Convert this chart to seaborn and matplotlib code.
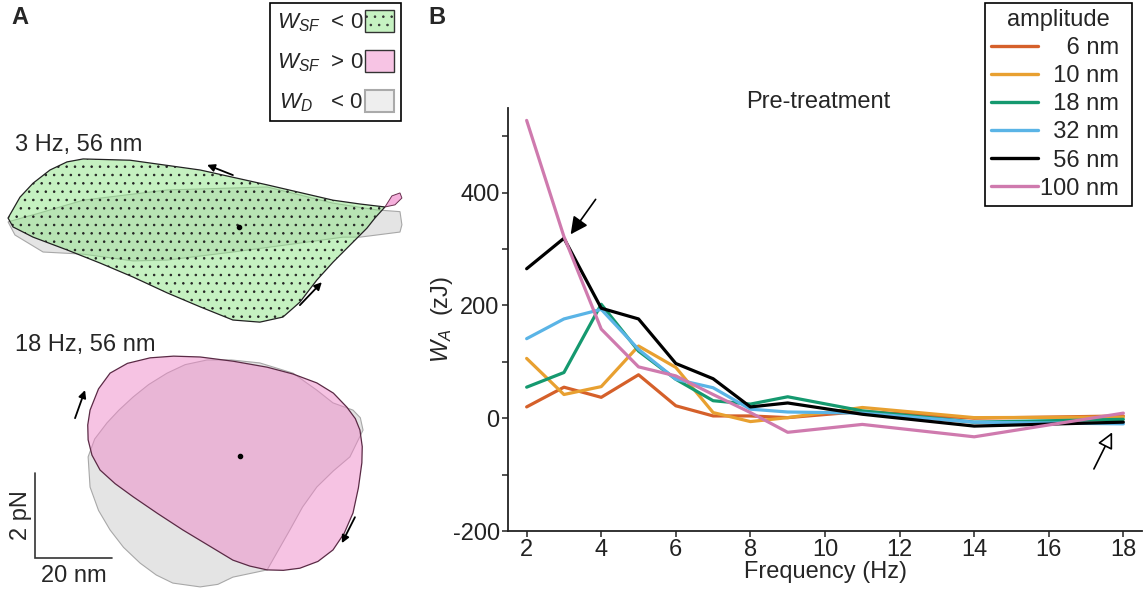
import numpy as np
import pandas as pd
import matplotlib
matplotlib.use("Agg")
import matplotlib.pyplot as plt
import seaborn as sns
from matplotlib.patches import Polygon, Patch

# ---------------- data: panel B ----------------
frequency = [2, 3, 4, 5, 6, 7, 8, 9, 11, 14, 18]
w_6nm = [20, 55, 37, 77, 22, 4, 4, 1, 12, 0, 4]
w_10nm = [106, 42, 56, 128, 90, 10, -6, 1, 19, 1, 2]
w_18nm = [55, 81, 202, 119, 69, 31, 25, 38, 13, -7, -2]
w_32nm = [141, 176, 193, 122, 69, 54, 16, 11, 9, -7, -10]
w_56nm = [265, 319, 195, 176, 97, 70, 20, 27, 7, -14, -7]
w_100nm = [528, 322, 158, 91, 75, 42, 10, -25, -11, -33, 9]
amplitudes = ["6 nm", "10 nm", "18 nm", "32 nm", "56 nm", "100 nm"]
amp_colors = ["#d5602a", "#e8a030", "#15996f", "#5ab4e6", "#000000", "#cf7aae"]
y_ticks = [-200, -100, 0, 100, 200, 300, 400, 500]
y_ticklabels = ["-200", "", "0", "", "200", "", "400", ""]
x_ticks = [2, 4, 6, 8, 10, 12, 14, 16, 18]

# ---------------- data: panel A (displacement nm, force pN) ----------------
loop3_green_x = [-7.0, -3.9, -0.5, 3.9, 8.3, 12.5, 24.7, 42.9, 60.3, 77.4, 84.4, 90.9,
                 88.3, 86.2, 81.8, 77.4, 73.2, 68.8, 64.4, 58.4, 51.4, 42.9, 34.3, 25.5,
                 16.9, 8.3, -0.5, -5.7]
loop3_green_y = [8.0, 8.49, 8.82, 9.13, 9.32, 9.39, 9.36, 9.13, 8.78, 8.42, 8.33, 8.26,
                 8.0, 7.76, 7.36, 6.96, 6.54, 6.02, 5.67, 5.55, 5.60, 5.91, 6.24, 6.61,
                 6.94, 7.25, 7.55, 7.79]
loop3_gray_x = [-7.0, 1.3, 12.5, 34.3, 60.3, 77.4, 88.8, 94.8, 95.3, 94.8, 84.4, 80.0,
                68.8, 51.4, 34.3, 25.5, 12.5, 2.1, -5.2]
loop3_gray_y = [7.91, 8.12, 8.42, 8.66, 8.73, 8.35, 8.19, 8.15, 7.84, 7.67, 7.55, 7.55,
                7.41, 7.20, 7.01, 6.99, 7.15, 7.20, 7.60]
loop3_pink_x = [90.9, 92.7, 94.8, 95.3, 93.5]
loop3_pink_y = [8.26, 8.52, 8.59, 8.47, 8.31]

loop18_pink_x = [14.3, 16.5, 19.5, 24.0, 29.9, 36.0, 42.9, 51.5, 60.3, 67.0, 73.2, 77.5,
                 81.0, 83.2, 84.4, 85.0, 84.9, 84.0, 82.6, 80.3, 77.4, 73.5, 68.8, 64.5,
                 60.3, 55.8, 51.4, 45.0, 38.4, 31.8, 25.5, 20.8, 16.9, 14.8, 13.8, 13.7]
loop18_pink_y = [3.48, 3.98, 4.35, 4.58, 4.71, 4.75, 4.73, 4.63, 4.49, 4.33, 4.12, 3.88,
                 3.55, 3.28, 3.01, 2.62, 2.24, 1.65, 1.06, 0.58, 0.19, -0.08, -0.24, -0.29,
                 -0.28, -0.19, -0.05, 0.30, 0.66, 1.05, 1.44, 1.75, 2.07, 2.42, 2.78, 3.13]
loop18_gray_x = [13.8, 14.3, 16.5, 19.5, 23.0, 27.3, 31.5, 35.8, 42.9, 47.5, 51.4, 60.3,
                 66.2, 69.5, 73.2, 77.5, 81.8, 85.2, 84.5, 82.6, 77.4, 73.2, 67.0, 58.4,
                 51.0, 44.7, 39.0, 34.3, 29.5, 25.5, 21.8, 18.7, 15.5]
loop18_gray_y = [2.38, 1.67, 1.12, 0.66, 0.25, -0.12, -0.40, -0.59, -0.68, -0.62, -0.45,
                 -0.28, 0.66, 1.20, 1.67, 2.05, 2.38, 3.01, 3.30, 3.48, 3.65, 3.95, 4.35,
                 4.59, 4.66, 4.66, 4.55, 4.35, 4.08, 3.79, 3.48, 3.18, 2.80]
centers_x = [53.0, 53.2]
centers_y = [7.79, 2.40]

# ---------------- style ----------------
sns.set_theme(style="ticks")
plt.rcParams["font.family"] = ["Liberation Sans", "DejaVu Sans"]
plt.rcParams["mathtext.fontset"] = "custom"
plt.rcParams["mathtext.rm"] = "Liberation Sans"
plt.rcParams["mathtext.it"] = "Liberation Sans:italic"
plt.rcParams["hatch.linewidth"] = 0.6
FS = 17

fig = plt.figure(figsize=(11.46, 5.96), dpi=100)

# ---------------- panel A ----------------
axA = fig.add_axes([0, 0, 420 / 1146, 1])
axA.set_xlim(-9.09, 100.0)
axA.set_ylim(-0.894, 13.13)
axA.axis("off")

def poly(ax, xs, ys, **kw):
    p = Polygon(np.column_stack([xs, ys]), closed=True, **kw)
    ax.add_patch(p)
    return p

green = "#8de585"
pink = "#ef89c9"
grayc = "#e4e4e4"

poly(axA, loop3_gray_x, loop3_gray_y, facecolor=grayc, edgecolor="#a8a8a8", lw=0.8, zorder=1)
poly(axA, loop3_green_x, loop3_green_y, facecolor=green, alpha=0.5, edgecolor="none", zorder=2)
poly(axA, loop3_green_x, loop3_green_y, fill=False, edgecolor="#222222", lw=0, hatch="..", zorder=3)
poly(axA, loop3_green_x, loop3_green_y, fill=False, edgecolor="#222222", lw=0.9, zorder=4)
poly(axA, loop3_pink_x, loop3_pink_y, facecolor="#f5b0dc", edgecolor="#6a3050", lw=0.7, zorder=4)

poly(axA, loop18_gray_x, loop18_gray_y, facecolor=grayc, edgecolor="#a8a8a8", lw=0.8, zorder=1)
poly(axA, loop18_pink_x, loop18_pink_y, facecolor=pink, alpha=0.5, edgecolor="none", zorder=2)
poly(axA, loop18_pink_x, loop18_pink_y, fill=False, edgecolor="#5a2a45", lw=0.9, zorder=3)

axA.scatter(centers_x, centers_y, s=9, color="black", zorder=5)

arrow_kw = dict(arrowstyle="-|>", color="black", lw=1.3, mutation_scale=11, shrinkA=0, shrinkB=0)
axA.annotate("", xy=(44.7, 9.25), xytext=(51.4, 9.01), arrowprops=arrow_kw)
axA.annotate("", xy=(74.5, 6.49), xytext=(68.8, 5.95), arrowprops=arrow_kw)
axA.annotate("", xy=(13.0, 3.95), xytext=(10.4, 3.29), arrowprops=arrow_kw)
axA.annotate("", xy=(79.7, 0.35), xytext=(83.1, 0.96), arrowprops=arrow_kw)

# scale bar
axA.plot([0, 0, 20], [2, 0, 0], color="#333333", lw=1.2, solid_joinstyle="miter")
axA.text(-3.6, 1.0, "2 pN", rotation=90, ha="center", va="center", fontsize=FS)
axA.text(10.2, -0.42, "20 nm", ha="center", va="center", fontsize=FS)

fig.text(15 / 1146, 1 - 145 / 596, "3 Hz, 56 nm", ha="left", va="center", fontsize=FS)
fig.text(15 / 1146, 1 - 345 / 596, "18 Hz, 56 nm", ha="left", va="center", fontsize=FS)
fig.text(11 / 1146, 1 - 17 / 596, "A", ha="left", va="center", fontsize=17, fontweight="bold")
fig.text(428 / 1146, 1 - 17 / 596, "B", ha="left", va="center", fontsize=17, fontweight="bold")

legA_handles = [
    Patch(facecolor="#c6f2c2", edgecolor="#333333", hatch="..", lw=1.0),
    Patch(facecolor="#f7c4e4", edgecolor="#333333", lw=1.0),
    Patch(facecolor="#eeeeee", edgecolor="#aaaaaa", lw=1.5),
]
legA_labels = [r"$W_{SF}$  < 0", r"$W_{SF}$  > 0", r"$W_{D}$   < 0"]
legA = fig.legend(legA_handles, legA_labels, loc="upper right",
                  bbox_to_anchor=(401 / 1146, 1 - 3 / 596), markerfirst=False,
                  fontsize=16, handlelength=1.3, handleheight=1.15, handletextpad=0.1,
                  labelspacing=0.72, borderpad=0.3, borderaxespad=0, frameon=True,
                  fancybox=False, framealpha=1, edgecolor="black")
legA.get_frame().set_linewidth(1.2)

# ---------------- panel B ----------------
axB = fig.add_axes([508 / 1146, 65 / 596, 634 / 1146, 423 / 596])
series = [w_6nm, w_10nm, w_18nm, w_32nm, w_56nm, w_100nm]
df = pd.DataFrame({
    "Frequency": np.tile(frequency, len(amplitudes)),
    "W": np.concatenate(series),
    "amplitude": np.repeat(amplitudes, len(frequency)),
})
sns.lineplot(data=df, x="Frequency", y="W", hue="amplitude", hue_order=amplitudes,
             palette=dict(zip(amplitudes, amp_colors)), linewidth=2.3, ax=axB, legend=True)
handles, labels = axB.get_legend_handles_labels()
axB.get_legend().remove()

axB.set_xlim(1.5, 18.5)
axB.set_ylim(-200, 550)
axB.set_xticks(x_ticks)
axB.set_xticklabels([str(t) for t in x_ticks])
axB.set_yticks(y_ticks)
axB.set_yticklabels(y_ticklabels)
axB.tick_params(axis="both", labelsize=FS, length=4.5, width=1.1, pad=1.5, colors="#222222")
for s in ["left", "bottom"]:
    axB.spines[s].set_linewidth(1.3)
    axB.spines[s].set_color("#222222")
sns.despine(ax=axB)
axB.set_xlabel("Frequency (Hz)", fontsize=FS, labelpad=0)
axB.set_ylabel(r"$W_A$  (zJ)", fontsize=FS)
axB.yaxis.set_label_coords(-0.083, 0.5)
axB.text(0.49, 1.015, "Pre-treatment", transform=axB.transAxes, ha="center", va="center",
         fontsize=FS)

axB.annotate("", xy=(3.18, 326), xytext=(3.85, 388),
             arrowprops=dict(arrowstyle="-|>", color="black", lw=1.2, mutation_scale=26,
                             shrinkA=0, shrinkB=0))
axB.annotate("", xy=(17.70, -25), xytext=(17.21, -90),
             arrowprops=dict(arrowstyle="-|>", facecolor="white", edgecolor="black", lw=1.2,
                             mutation_scale=24, shrinkA=0, shrinkB=0))

pad_labels = ["    6 nm ", "  10 nm ", "  18 nm ", "  32 nm ", "  56 nm ", "100 nm "]
legB = fig.legend(handles, pad_labels, title="amplitude", loc="upper right",
                  bbox_to_anchor=(1132 / 1146, 1 - 3 / 596), fontsize=FS, title_fontsize=FS,
                  handlelength=2.0, handletextpad=0.1, labelspacing=0.26, borderpad=0.25,
                  borderaxespad=0, frameon=True, fancybox=False, framealpha=1,
                  edgecolor="black")
legB.get_frame().set_linewidth(1.2)
for ln in legB.get_lines():
    ln.set_linewidth(2.4)

fig.savefig("out.png", dpi=100)
